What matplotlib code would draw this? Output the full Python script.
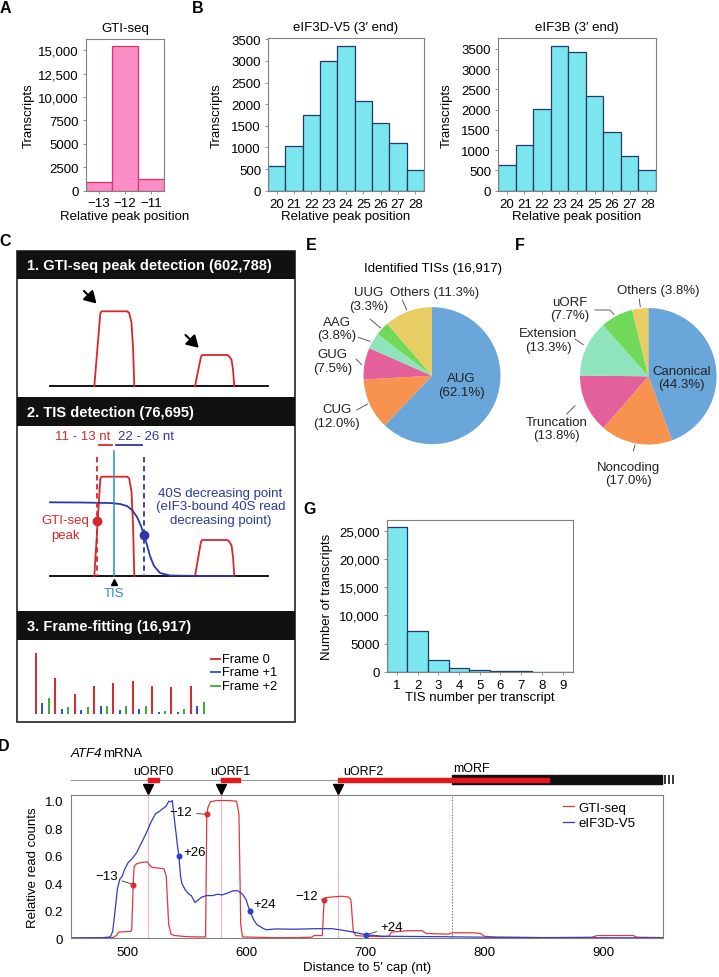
import numpy as np
import matplotlib
matplotlib.use("Agg")
import matplotlib.pyplot as plt
from matplotlib import font_manager
from matplotlib.ticker import FuncFormatter
from matplotlib.patches import Rectangle

W, H = 719, 978

# ---- data ----
gti_pos = [-13, -12, -11]
gti_counts = [860, 15400, 1250]

rel_pos = [20, 21, 22, 23, 24, 25, 26, 27, 28]
eif3d_counts = [570, 1030, 1750, 3000, 3350, 2080, 1560, 1100, 490]
eif3b_counts = [640, 1120, 2020, 3580, 3420, 2350, 1450, 860, 510]

tis_num = [1, 2, 3, 4, 5, 6, 7, 8, 9]
tis_transcripts = [25600, 7200, 2130, 620, 220, 90, 40, 20, 10]

codon_labels = ['AUG', 'CUG', 'GUG', 'AAG', 'UUG', 'Others']
codon_pct = [62.1, 12.0, 7.5, 3.8, 3.3, 11.3]
type_labels = ['Canonical', 'Noncoding', 'Truncation', 'Extension', 'uORF', 'Others']
type_pct = [44.3, 17.0, 13.8, 13.3, 7.7, 3.8]
pie_colors = ['#6aa6d9', '#f7934f', '#e4609b', '#8fe3bd', '#70d95a', '#e8cd62']

# schematic frame fitting (relative heights)
frame0 = [60.7, 36, 20, 28, 30.7, 33.3, 28, 26.7, 28]
frame1 = [11, 5, 4.3, 7.7, 4.3, 5, 2.3, 2.3, 8.3]
frame2 = [15.7, 7, 7, 8, 8, 8.3, 3.3, 5, 11.7]

# ATF4 profile
gti_x = [453, 470, 488, 491, 493, 503, 504, 505.2, 506, 508, 512, 517, 519, 521, 526, 531, 533, 535,
         537, 540, 550, 560, 566, 567, 568, 570, 575, 585, 592, 594, 595.5, 597, 620, 640, 655, 657,
         664, 665.5, 667, 672, 680, 686, 688, 690, 692, 700, 715, 720, 722, 730, 735, 748, 751, 770,
         773, 790, 797, 800, 810, 850, 890, 895, 925, 928, 950]
gti_y = [0.0, 0.002, 0.005, 0.02, 0.045, 0.05, 0.06, 0.39, 0.52, 0.54, 0.55, 0.555, 0.53, 0.515, 0.51,
         0.505, 0.45, 0.1, 0.03, 0.02, 0.012, 0.01, 0.01, 0.9, 0.95, 0.99, 1.0, 1.0, 0.995, 0.9, 0.1,
         0.01, 0.005, 0.005, 0.008, 0.02, 0.02, 0.28, 0.295, 0.3, 0.305, 0.3, 0.28, 0.05, 0.02, 0.015,
         0.012, 0.015, 0.045, 0.05, 0.055, 0.055, 0.035, 0.03, 0.04, 0.04, 0.035, 0.015, 0.008, 0.005,
         0.008, 0.02, 0.02, 0.008, 0.005]
eif_x = [453, 480, 486, 488, 490, 492, 494, 496, 498, 501, 504, 508, 512, 516, 520, 524, 527, 530, 533,
         535, 537, 538, 540, 542, 543.5, 545, 546, 549, 552, 554, 557, 560, 563, 567, 572, 576, 580,
         585, 589, 593, 597, 600, 603, 606, 609, 614, 617, 625, 640, 660, 672, 680, 690, 701, 715, 760,
         800, 850, 950]
eif_y = [0.003, 0.005, 0.01, 0.05, 0.2, 0.36, 0.43, 0.45, 0.5, 0.55, 0.575, 0.62, 0.69, 0.76, 0.84, 0.905,
         0.92, 0.94, 0.96, 0.995, 0.99, 1.0, 0.85, 0.7, 0.6, 0.45, 0.4, 0.35, 0.32, 0.31, 0.26, 0.28, 0.3,
         0.31, 0.31, 0.32, 0.315, 0.33, 0.345, 0.345, 0.32, 0.28, 0.2, 0.14, 0.1, 0.073, 0.062, 0.068,
         0.066, 0.07, 0.07, 0.06, 0.045, 0.025, 0.015, 0.012, 0.008, 0.005, 0.003]
uorf_names = ['uORF0', 'uORF1', 'uORF2']
uorf_starts = [517.7, 579, 677.5]
uorf_ends = [527, 595, 854]
morf_start, morf_end = 773, 949
gti_marks = [(505.2, 0.39, '\u221213'), (567, 0.9, '\u221212'), (665.5, 0.28, '\u221212')]
eif_marks = [(543.5, 0.6, '+26'), (603, 0.2, '+24'), (701, 0.025, '+24')]

# ---- fonts ----
names = {f.name for f in font_manager.fontManager.ttflist}
narrow = 'Liberation Sans Narrow' if 'Liberation Sans Narrow' in names else 'Liberation Sans'
plt.rcParams['font.family'] = ['Liberation Sans', 'DejaVu Sans']
FS = 9.5


def rect(l, t, r, b):
    return [l / W, 1 - b / H, (r - l) / W, (b - t) / H]


def style(ax):
    for s in ax.spines.values():
        s.set_color('#808080')
        s.set_linewidth(0.8)
    ax.tick_params(length=2.5, width=0.6, color='#808080', labelsize=FS, pad=2.5)


def label_pos(ax, l, t, r, b, xl_y=None, yl_x=None):
    if xl_y is not None:
        ax.xaxis.set_label_coords(0.5, (b - xl_y) / (b - t))
        ax.xaxis.label.set_va('center')
    if yl_x is not None:
        ax.yaxis.set_label_coords((yl_x - l) / (r - l), 0.5)
        ax.yaxis.label.set_va('center')


cnt_fmt = FuncFormatter(lambda v, p: f'{int(v):,}' if v >= 10000 else f'{int(v)}')

fig = plt.figure(figsize=(W / 100, H / 100), dpi=100)

# ---- A ----
box = (86, 40, 164, 191.5)
ax = fig.add_axes(rect(*box))
ax.bar(gti_pos, gti_counts, width=1, color='#fa8dc5', edgecolor='#e0306a', linewidth=0.9)
ax.set_xlim(-13.5, -10.5)
ax.set_ylim(0, 16200)
ax.set_xticks(gti_pos)
ax.set_yticks(np.arange(0, 15001, 2500))
ax.yaxis.set_major_formatter(cnt_fmt)
ax.set_title('GTI-seq', fontsize=FS, pad=6)
ax.set_xlabel('Relative peak position', fontsize=FS)
ax.set_ylabel('Transcripts', fontsize=FS)
style(ax)
label_pos(ax, *box, xl_y=216.7, yl_x=28.3)

# ---- B ----
for box, vals, title, ytop in [((268, 39, 424, 191.7), eif3d_counts, 'eIF3D-V5 (3\u2032 end)', 3530),
                               ((498, 39, 656, 191.7), eif3b_counts, 'eIF3B (3\u2032 end)', 3770)]:
    ax = fig.add_axes(rect(*box))
    ax.bar(rel_pos, vals, width=1, color='#7be6ee', edgecolor='#1f3a6b', linewidth=0.9)
    ax.set_xlim(19.5, 28.5)
    ax.set_ylim(0, ytop)
    ax.set_xticks(rel_pos)
    ax.set_yticks(np.arange(0, 3501, 500))
    ax.set_title(title, fontsize=FS, pad=6)
    ax.set_xlabel('Relative peak position', fontsize=FS)
    ax.set_ylabel('Transcripts', fontsize=FS)
    style(ax)
    label_pos(ax, *box, xl_y=216.7, yl_x=box[0] - 51)

# ---- G ----
box = (386.5, 521, 573, 672.7)
ax = fig.add_axes(rect(*box))
ax.bar(tis_num, tis_transcripts, width=1, color='#7be6ee', edgecolor='#1f3a6b', linewidth=0.9)
ax.set_xlim(0.5, 9.5)
ax.set_ylim(0, 26900)
ax.set_xticks(tis_num)
ax.set_yticks(np.arange(0, 25001, 5000))
ax.yaxis.set_major_formatter(cnt_fmt)
ax.set_xlabel('TIS number per transcript', fontsize=FS)
ax.set_ylabel('Number of transcripts', fontsize=FS)
style(ax)
label_pos(ax, *box, xl_y=698, yl_x=326.7)

# ---- E / F pies ----
for (cx, cy, r), vals in [((432, 376.7, 68.5), codon_pct), ((648.3, 377.3, 68.3), type_pct)]:
    ax = fig.add_axes(rect(cx - r, cy - r, cx + r, cy + r))
    ax.pie(vals, colors=pie_colors, startangle=90, counterclock=False,
           wedgeprops=dict(linewidth=0))
    ax.set_xlim(-1, 1)
    ax.set_ylim(-1, 1)
    ax.set_aspect('equal')
    ax.patch.set_visible(False)

# ---- C frame-fitting bars ----
ax = fig.add_axes(rect(30, 640, 215, 715))
idx = np.arange(len(frame0)) * 3
ax.vlines(idx, 0, frame0, color='#d9262b', lw=1.4)
ax.vlines(idx + 1, 0, frame1, color='#2f4fd0', lw=1.4)
ax.vlines(idx + 2, 0, frame2, color='#3aa83a', lw=1.4)
ax.set_xlim(-0.93, 27.75)
ax.set_ylim(0, 75)
ax.axis('off')

# ---- D ----
box = (71, 796, 663, 939.3)
ax_d = fig.add_axes(rect(*box))
for s in uorf_starts:
    ax_d.axvline(s, color='#f5b5c0', lw=0.8, zorder=0)
ax_d.axvline(morf_start, color='#777777', lw=0.7, ls=(0, (1.5, 1.5)), zorder=0)
ax_d.plot(gti_x, gti_y, color='#e0383c', lw=0.9, label='GTI-seq')
ax_d.plot(eif_x, eif_y, color='#2d3fbf', lw=0.9, label='eIF3D-V5')
for x, y, t in gti_marks:
    ax_d.plot(x, y, 'o', color='#d32f2f', ms=3.3, zorder=5)
for x, y, t in eif_marks:
    ax_d.plot(x, y, 'o', color='#2c3ec4', ms=3.3, zorder=5)
akw = dict(fontsize=FS, va='center', arrowprops=dict(arrowstyle='-', lw=0.6, color='#333333', shrinkA=1, shrinkB=1))
ax_d.annotate(gti_marks[0][2], xy=gti_marks[0][:2], xytext=(492.4, 0.454), ha='right', **akw)
ax_d.annotate(gti_marks[1][2], xy=gti_marks[1][:2], xytext=(555, 0.913), ha='right', **akw)
ax_d.annotate(gti_marks[2][2], xy=gti_marks[2][:2], xytext=(660, 0.31), ha='right', **akw)
ax_d.annotate(eif_marks[0][2], xy=eif_marks[0][:2], xytext=(547.5, 0.625), ha='left', **akw)
ax_d.annotate(eif_marks[1][2], xy=eif_marks[1][:2], xytext=(606.5, 0.25), ha='left', **akw)
ax_d.annotate(eif_marks[2][2], xy=eif_marks[2][:2], xytext=(713, 0.085), ha='left', **akw)
ax_d.set_xlim(453, 950)
ax_d.set_ylim(0, 1.04)
ax_d.set_xticks([500, 600, 700, 800, 900])
ax_d.set_yticks([0, 0.2, 0.4, 0.6, 0.8, 1.0])
ax_d.yaxis.set_major_formatter(FuncFormatter(lambda v, p: '0' if v == 0 else f'{v:.1f}'))
ax_d.set_xlabel('Distance to 5\u2032 cap (nt)', fontsize=FS)
ax_d.set_ylabel('Relative read counts', fontsize=FS)
for s in ax_d.spines.values():
    s.set_color('#808080')
    s.set_linewidth(0.8)
ax_d.tick_params(length=0, labelsize=FS, pad=5.5)
label_pos(ax_d, *box, xl_y=968.3, yl_x=33.3)
ax_d.legend(loc='upper left', bbox_to_anchor=(0.831, 0.955), frameon=False, fontsize=FS,
            handlelength=0.8, handletextpad=0.4, borderpad=0, borderaxespad=0, labelspacing=0.25)

# gene track, same x scale as D, y in pixels
ax_t = fig.add_axes(rect(71, 745, 663, 796))
ax_t.set_xlim(453, 950)
ax_t.set_ylim(796, 745)
ax_t.axis('off')
ax_t.plot([453, morf_start], [780.7, 780.7], color='#9a9a9a', lw=0.8, zorder=1)
ax_t.broken_barh([(morf_start, morf_end - morf_start)], (776, 9), color='#111111', zorder=2)
for s, e in zip(uorf_starts, uorf_ends):
    ax_t.broken_barh([(s, e - s)], (778.5, 4.4), color='#e8161b', zorder=3)
ax_t.plot(uorf_starts, [790] * 3, 'v', color='k', ms=7)
ax_t.vlines([951.6, 954.9, 958.2], 776, 785, color='k', lw=1.1, clip_on=False)
for n, s, e in zip(uorf_names[:2], uorf_starts[:2], uorf_ends[:2]):
    ax_t.text((s + e) / 2, 771.7, n, ha='center', va='center', fontsize=FS * 0.95)
ax_t.text(uorf_starts[2] + 4, 771.7, uorf_names[2], ha='left', va='center', fontsize=FS * 0.95)
ax_t.text(morf_start + 1, 769.3, 'mORF', ha='left', va='center', fontsize=FS * 0.95)

# ---- overlay in pixel coordinates ----
ov = fig.add_axes([0, 0, 1, 1], zorder=10)
ov.set_xlim(0, W)
ov.set_ylim(H, 0)
ov.axis('off')
ov.patch.set_visible(False)

for t, x, y in [('A', 5, 8.3), ('B', 198, 8.3), ('C', 5, 241.7), ('E', 311.7, 245),
                ('F', 520, 245), ('G', 309.3, 510), ('D', 4, 746.7)]:
    ov.text(x, y, t, fontsize=11.5, fontweight='bold', ha='center', va='center')

# panel C box and headers
ov.add_patch(Rectangle((17.3, 251.7), 277.7, 471.6, fill=False, lw=1.2, ec='#222222'))
for (t0, t1), txt in [((251.7, 280), '1. GTI-seq peak detection (602,788)'),
                      ((398, 426.7), '2. TIS detection (76,695)'),
                      ((612.3, 641), '3. Frame-fitting (16,917)')]:
    ov.add_patch(Rectangle((17.3, t0), 277.7, t1 - t0, color='#111111', lw=0))
    ov.text(26.7, (t0 + t1) / 2 + 0.5, txt, color='white', fontweight='bold', family=narrow,
            fontsize=12.5 if narrow != 'Liberation Sans' else 10.5, ha='left', va='center')

RED, BLUE, DBLUE, TBLUE = '#d9262b', '#2b36a8', '#2b3a9e', '#2a8ad8'


def peak(x0, x1, top, base):
    w = x1 - x0
    xs = [x0, x0 + 0.15 * w, x0 + 0.18 * w, x0 + 0.82 * w, x0 + 0.87 * w, x0 + 0.93 * w, x0 + 0.97 * w, x1]
    ys = [base, top + 2, top, top, top + 1.5, top + 0.15 * (base - top), top + 0.5 * (base - top), base]
    ov.plot(xs, ys, color=RED, lw=1.3, solid_joinstyle='round')


# schematic 1
ov.plot([50, 268.3], [387.3, 387.3], color='k', lw=1.3)
peak(94.3, 134.3, 312.3, 387.3)
peak(195, 234.3, 356, 387.3)
arr = dict(arrowstyle='-|>,head_length=0.5,head_width=0.3', color='k', lw=1.5, mutation_scale=14,
           shrinkA=0, shrinkB=0)
ov.annotate('', xy=(96.5, 304.5), xytext=(84, 292), arrowprops=arr)
ov.annotate('', xy=(198.8, 348.8), xytext=(185.5, 336), arrowprops=arr)

# schematic 2
ov.plot([50, 268.3], [577.3, 577.3], color='k', lw=1.3)
peak(94.3, 134.3, 477.7, 577.3)
peak(195, 234.3, 541, 577.3)
bx = [50, 80, 110, 120, 127, 132, 137, 141, 144, 147, 150, 154, 160, 170, 200, 233]
by = [503.3, 503.5, 504, 505, 507, 511, 518, 527, 535.7, 546, 557, 567, 574, 576.5, 577, 577]
ov.plot(bx, by, color=BLUE, lw=1.3)
ov.plot([97.3, 97.3], [458, 577], color=RED, lw=1.3, ls=(0, (3, 2)))
ov.plot([144, 144], [458, 577], color=BLUE, lw=1.3, ls=(0, (3, 2)))
ov.plot([114, 114], [451.7, 577], color=TBLUE, lw=1.1)
ov.plot(114, 582.5, '^', color='k', ms=4.5)
ov.text(114, 594, 'TIS', color=TBLUE, fontsize=FS, ha='center', va='center')
ov.plot(97.3, 521.7, 'o', color=RED, ms=6)
ov.plot(144, 535.7, 'o', color=BLUE, ms=6)
ov.plot([99, 111.7], [445.7, 445.7], color=RED, lw=1.3)
ov.plot([116, 141.7], [445.7, 445.7], color=BLUE, lw=1.3)
ov.text(82.5, 437, '11 - 13 nt', color=RED, fontsize=FS, ha='center', va='center')
ov.text(145.7, 437, '22 - 26 nt', color=BLUE, fontsize=FS, ha='center', va='center')
ov.text(220.5, 507.3, '40S decreasing point\n(eIF3-bound 40S read\ndecreasing point)', color=DBLUE,
        fontsize=FS, ha='center', va='center', multialignment='center', linespacing=1.17)
ov.text(65, 528.7, 'GTI-seq\npeak', color=RED, fontsize=FS, ha='center', va='center',
        multialignment='center', linespacing=1.3)

# schematic 3 legend
for y, c, t in [(660, '#d9262b', 'Frame 0'), (673.3, '#2f4fd0', 'Frame +1'), (686.7, '#3aa83a', 'Frame +2')]:
    ov.plot([210.7, 220], [y, y], color=c, lw=1.3)
    ov.text(222.3, y, t, fontsize=9.3, ha='left', va='center')

# pie labels
ov.text(432.5, 269, 'Identified TISs (16,917)', fontsize=FS, ha='center', va='center')
pie_txt = [
    ('UUG\n(3.3%)', 368.3, 300), ('Others (11.3%)', 435, 293.3), ('AAG\n(3.8%)', 336.7, 329.5),
    ('GUG\n(7.5%)', 332.7, 362), ('CUG\n(12.0%)', 336.7, 417),
    ('Others (3.8%)', 658.3, 291), ('uORF\n(7.7%)', 570, 309.2), ('Extension\n(13.3%)', 548.3, 341),
    ('Truncation\n(13.8%)', 556.7, 429.5), ('Noncoding\n(17.0%)', 628.3, 474.7),
]
for t, x, y in pie_txt:
    ov.text(x, y, t, fontsize=FS, ha='center', va='center', multialignment='center',
            linespacing=1.15, color='#222222')
ov.text(461.7, 386, 'AUG\n(62.1%)', fontsize=FS, ha='center', va='center', linespacing=1.15, color='#222222')
ov.text(681.7, 378.7, 'Canonical\n(44.3%)', fontsize=FS, ha='center', va='center', linespacing=1.15,
        color='#222222')
leaders = [
    ([370, 380.7], [320, 329]), ([402.3, 406.7], [301, 311]), ([358.3, 370], [338.3, 342.3]),
    ([356, 361.7], [360, 365.7]), ([356.7, 367.7], [411, 405]),
    ([639.3, 640.3], [300, 307.7]), ([595, 610, 614], [311, 311, 315.7]), ([575, 583.3], [340, 345.7]),
    ([566.7, 575], [415, 406.7]), ([633.3, 635], [452, 446]),
]
for xs, ys in leaders:
    ov.plot(xs, ys, color='#444444', lw=0.6)

ov.text(71, 754.3, 'ATF4', fontsize=FS, style='italic', ha='left', va='center')
ov.text(103.3, 754.3, 'mRNA', fontsize=FS, ha='left', va='center')

fig.savefig('out.png', dpi=100)
